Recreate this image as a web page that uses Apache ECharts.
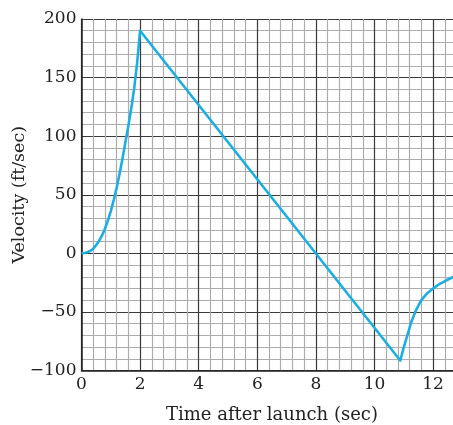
<!DOCTYPE html>
<html>
<head>
<meta charset="utf-8">
<script src="https://cdn.jsdelivr.net/npm/echarts@6/dist/echarts.min.js"></script>
<style>html,body{margin:0;padding:0;background:#fff}#c{width:453px;height:425px}</style>
</head>
<body>
<div id="c"></div>
<script>
const timeValues = [0, 0.1, 0.2, 0.3, 0.4, 0.5, 0.6, 0.7, 0.8, 0.9, 1.0, 1.1, 1.2, 1.3, 1.4, 1.5, 1.6, 1.7, 1.8, 1.9, 2.0,
  10.88, 11.0, 11.14, 11.25, 11.39, 11.5, 11.6, 11.8, 12.0, 12.2, 12.46, 12.7];
const velocityValues = [0, 0.3, 1, 2, 4, 7, 10.6, 15.3, 21, 28, 36, 45.5, 56, 68, 81, 95, 109, 124, 141, 163, 190,
  -91.5, -80, -68.6, -59, -50, -44.5, -40, -34, -30, -26.5, -23, -20];
const xAxisTitle = 'Time after launch (sec)';
const yAxisTitle = 'Velocity (ft/sec)';

const chart = echarts.init(document.getElementById('c'), null, {renderer: 'canvas'});
const font = 'DejaVu Serif';
chart.setOption({
  animation: false,
  grid: {left: 81.5, right: -9.4, top: 19, bottom: 54.5, containLabel: false, outerBoundsMode: 'none'},
  xAxis: {
    type: 'value', min: 0, max: 13, interval: 2,
    name: xAxisTitle, nameLocation: 'middle', nameGap: 36, nameMoveOverlap: false,
    nameTextStyle: {fontFamily: font, fontSize: 18, color: '#222'},
    axisLine: {show: true, onZero: false, lineStyle: {color: '#222', width: 1.5}},
    axisTick: {show: false},
    axisLabel: {fontFamily: font, fontSize: 17, color: '#222', margin: 6, showMaxLabel: false},
    splitLine: {show: true, lineStyle: {color: '#3a3a3a', width: 1.2}},
    minorTick: {show: false, splitNumber: 5},
    minorSplitLine: {show: true, lineStyle: {color: '#adadad', width: 1.2}}
  },
  yAxis: {
    type: 'value', min: -100, max: 200, interval: 50,
    name: yAxisTitle, nameLocation: 'middle', nameGap: 53, nameRotate: 90, nameMoveOverlap: false,
    nameTextStyle: {fontFamily: font, fontSize: 17.5, color: '#222'},
    axisLine: {show: true, onZero: false, lineStyle: {color: '#222', width: 1.5}},
    axisTick: {show: false},
    axisLabel: {fontFamily: font, fontSize: 17, color: '#222', margin: 5,
      formatter: v => String(v).replace('-', '\u2212')},
    splitLine: {show: true, lineStyle: {color: '#3a3a3a', width: 1.2}},
    minorTick: {show: false, splitNumber: 5},
    minorSplitLine: {show: true, lineStyle: {color: '#adadad', width: 1.2}}
  },
  series: [{
    type: 'line',
    data: timeValues.map((t, i) => [t, velocityValues[i]]),
    showSymbol: false,
    smooth: false,
    lineStyle: {color: '#1aaee3', width: 2.6, join: 'round'},
    clip: true
  }]
});
</script>
</body>
</html>
